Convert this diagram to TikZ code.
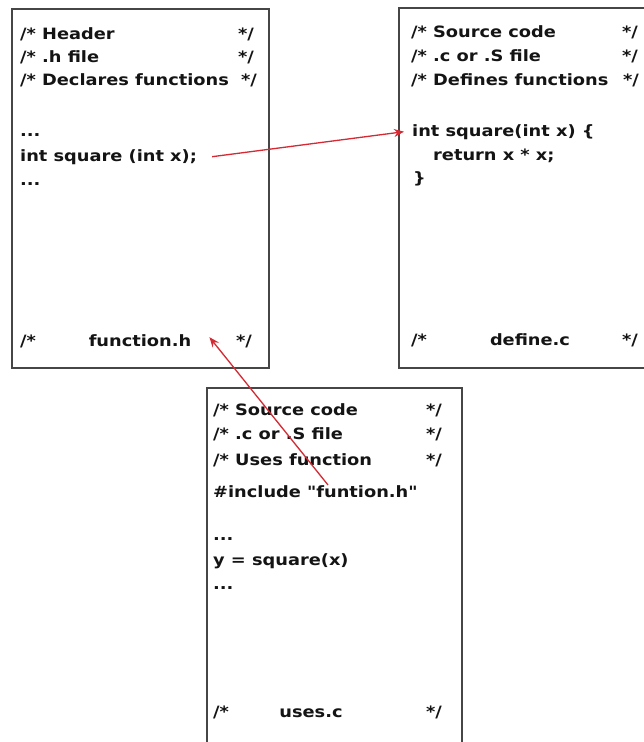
\documentclass[tikz,border=0pt]{standalone}
\usepackage{fontspec}
\newfontfamily\codefont{DejaVu Sans}[FakeStretch=1.14]
\usetikzlibrary{arrows.meta}
\definecolor{arrred}{HTML}{D42A33}
\definecolor{boxgray}{HTML}{464646}
\begin{document}
\begin{tikzpicture}[x=1pt,y=-1pt,
  box/.style={draw=boxgray, line width=1.7pt, anchor=north west, inner sep=0pt},
  txt/.style={anchor=base west, inner sep=0pt, text=black!92,
    font=\codefont\bfseries\fontsize{15.6}{18}\selectfont},
  rtxt/.style={txt, anchor=base east},
  ctxt/.style={txt, anchor=base},
  arr/.style={draw=arrred, line width=1.3pt, -{Stealth[length=10pt,width=8pt]}}]
\useasboundingbox (0,0) rectangle (643,742);
\fill[white] (0,0) rectangle (643,742);
% boxes
\node[box, minimum width=257pt, minimum height=359pt] (hbox) at (11,8) {};
\node[box, minimum width=257pt, minimum height=360pt] (dbox) at (398,7) {};
\node[box, minimum width=255pt, minimum height=380pt] (ubox) at (206,387) {};
% header file
\node[txt] (h1) at (20,39) {/* Header};
\node[rtxt] (h1r) at (254,39) {*/};
\node[txt] (h2) at (20,62) {/* .h file};
\node[rtxt] (h2r) at (254,62) {*/};
\node[txt] (h3) at (20,85) {/* Declares functions};
\node[rtxt] (h3r) at (257,85) {*/};
\node[txt] (h4) at (20,136) {...};
\node[txt] (decl) at (20,161) {int square (int x);};
\node[txt] (h6) at (20,185) {...};
\node[txt] (h7) at (20,346) {/*};
\node[ctxt] (fnh) at (140,346) {function.h};
\node[rtxt] (h7r) at (252,346) {*/};
% define file
\node[txt] (d1) at (411,37) {/* Source code};
\node[rtxt] (d1r) at (638,37) {*/};
\node[txt] (d2) at (411,61) {/* .c or .S file};
\node[rtxt] (d2r) at (638,61) {*/};
\node[txt] (d3) at (411,85) {/* Defines functions};
\node[rtxt] (d3r) at (639,85) {*/};
\node[txt] (defn) at (412,136) {int square(int x) \{};
\node[txt] (d5) at (433,160) {return x * x;};
\node[txt] (d6) at (413,183) {\}};
\node[txt] (d7) at (411,345) {/*};
\node[ctxt] (dc) at (530,345) {define.c};
\node[rtxt] (d7r) at (638,345) {*/};
% uses file
\node[txt] (u1) at (213,415) {/* Source code};
\node[rtxt] (u1r) at (442,415) {*/};
\node[txt] (u2) at (213,439) {/* .c or .S file};
\node[rtxt] (u2r) at (442,439) {*/};
\node[txt] (u3) at (213,465) {/* Uses function};
\node[rtxt] (u3r) at (442,465) {*/};
\node[txt] (inc) at (213,497) {\#include "funtion.h"};
\node[txt] (u5) at (213,540) {...};
\node[txt] (u6) at (213,565) {y = square(x)};
\node[txt] (u7) at (213,589) {...};
\node[txt] (u8) at (213,717) {/*};
\node[ctxt] (uc) at (311,717) {uses.c};
\node[rtxt] (u8r) at (442,717) {*/};
% connectors
\coordinate (incl) at (328,485);
\draw[arr] ([xshift=15pt]decl.east) -- ([xshift=-8pt]defn.west);
\draw[arr] (incl) -- ([xshift=18pt,yshift=3pt]fnh.east);
\end{tikzpicture}
\end{document}
